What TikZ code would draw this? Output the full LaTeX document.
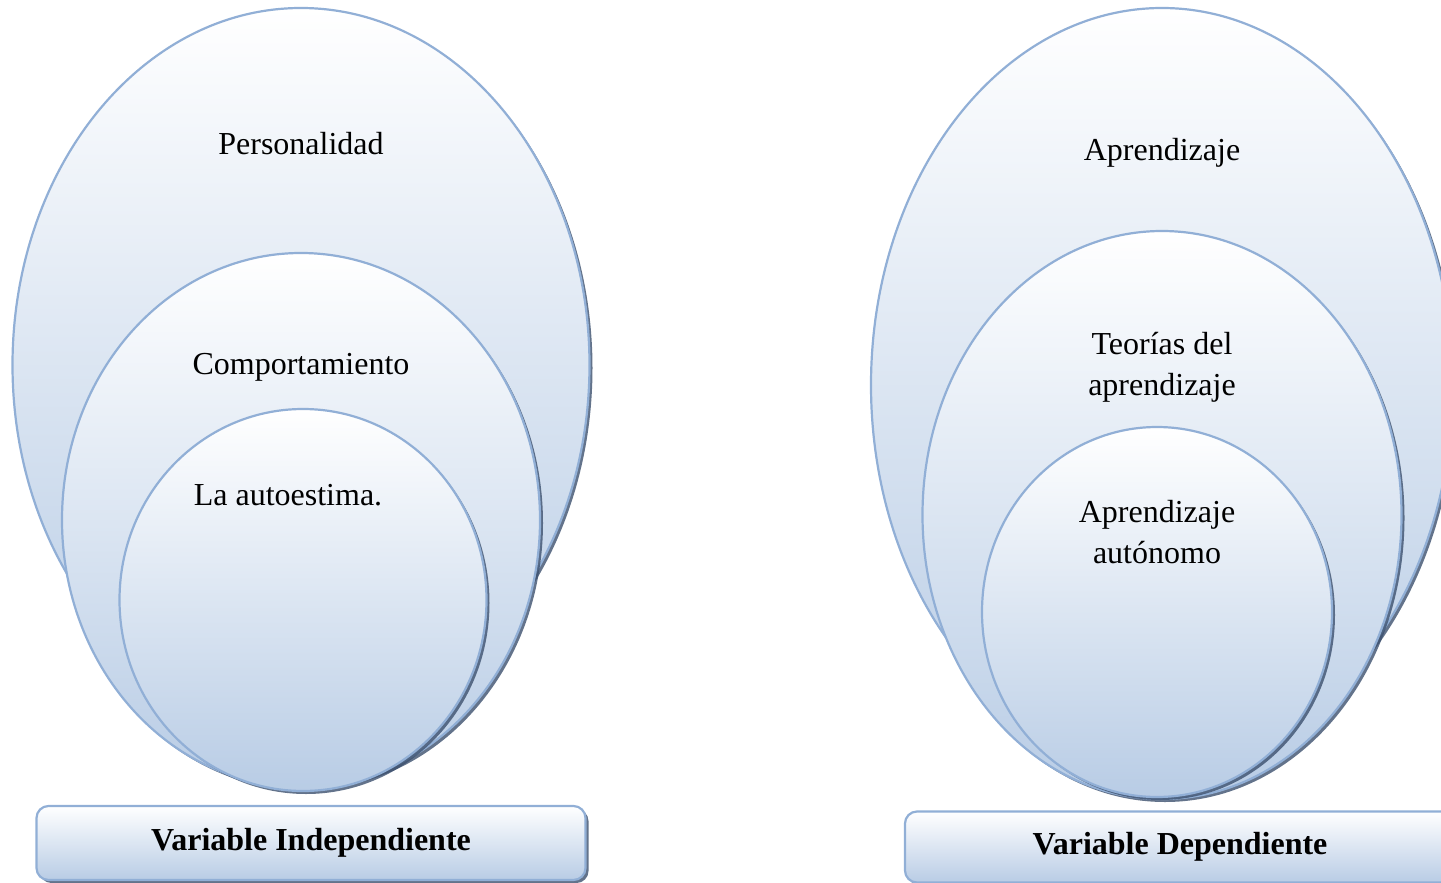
\documentclass[tikz,border=0pt]{standalone}
\usepackage{fontspec}
\setmainfont{Liberation Serif}
\usetikzlibrary{shapes.geometric,shadows}

\begin{document}
\begin{tikzpicture}[x=1pt, y=-1pt, every node/.style={font=\fontsize{32}{41}\selectfont}]
        \definecolor{bubbleline}{RGB}{145,175,214}
        \definecolor{bubblefill}{RGB}{184,204,229}
        \definecolor{shadowblue}{RGB}{60,80,110}

        \tikzset{
            bubble/.style={ellipse, draw=bubbleline, line width=2.2pt, inner sep=0pt,
                top color=white, bottom color=bubblefill,
                drop shadow={shadow xshift=3pt, shadow yshift=-3pt, fill=shadowblue, opacity=0.8}},
            varbox/.style={draw=bubbleline, line width=2.2pt, rounded corners=12pt,
                top color=white, bottom color=bubblefill,
                drop shadow={shadow xshift=3pt, shadow yshift=-3pt, fill=shadowblue, opacity=0.8},
                font=\fontsize{32}{41}\selectfont\bfseries},
            lbl/.style={inner sep=0pt, align=center}
        }

        \clip (0,0) rectangle (1441,883);

        % Independent variable
        \node[bubble, minimum width=577pt, minimum height=714pt] (persona) at (301,365) {};
        \node[bubble, minimum width=478pt, minimum height=534pt] (conducta) at (301,520) {};
        \node[bubble, minimum width=367pt, minimum height=382pt] (autoestima) at (303,600) {};

        \node[lbl] at ([yshift=-137pt]persona.north) {Personalidad};
        \node[lbl] at ([yshift=-115pt]conducta.north) {Comportamiento};
        \node[lbl] at ([xshift=-15pt, yshift=-87pt]autoestima.north) {La autoestima.};

        \node[varbox, minimum width=549pt, minimum height=74pt] (indep) at (311,843) {Variable Independiente};

        % Dependent variable
        \node[bubble, minimum width=582pt, minimum height=754pt] (aprender) at (1162,385) {};
        \node[bubble, minimum width=479pt, minimum height=568pt] (teorias) at (1162,515) {};
        \node[bubble, minimum width=350pt, minimum height=370pt] (autonomo) at (1157,612) {};

        \node[lbl] at ([yshift=-146pt]aprender.north) {Aprendizaje};
        \node[lbl] at ([yshift=-137pt]teorias.north) {Teorías del\\aprendizaje};
        \node[lbl] at ([yshift=-106pt]autonomo.north) {Aprendizaje\\autónomo};

        \node[varbox, minimum width=550pt, minimum height=71pt] (dep) at (1180,847) {Variable Dependiente};
    \end{tikzpicture}
\end{document}
